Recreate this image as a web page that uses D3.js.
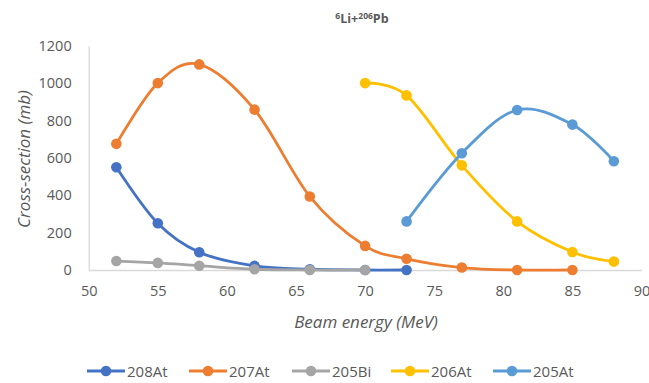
<!DOCTYPE html>
<html>
<head>
<meta charset="utf-8">
<script src="https://cdn.jsdelivr.net/npm/d3@7"></script>
<style>
  html, body { margin: 0; padding: 0; background: #fff; }
  svg { display: block; }
  text { font-family: "Open Sans", "DejaVu Sans", sans-serif; fill: #595959; }
</style>
</head>
<body>
<svg id="chart" width="649" height="383"></svg>
<script>
// ---- data ----
const seriesNames = ["208At", "207At", "205Bi", "206At", "205At"];
const seriesColors = ["#4472C4", "#ED7D31", "#A5A5A5", "#FFC000", "#5B9BD5"];

const x208At = [52, 55, 58, 62, 66, 70, 73];
const y208At = [550, 250, 95, 22, 4, 0, 0];

const x207At = [52, 55, 58, 62, 66, 70, 73, 77, 81, 85];
const y207At = [675, 1000, 1100, 858, 393, 129, 60, 13, 0, 0];

const x205Bi = [52, 55, 58, 62, 66, 70];
const y205Bi = [48, 38, 23, 4, 0, 0];

const x206At = [70, 73, 77, 81, 85, 88];
const y206At = [1000, 934, 560, 260, 96, 45];

const x205At = [73, 77, 81, 85, 88];
const y205At = [260, 625, 856, 778, 582];

const xTicks = [50, 55, 60, 65, 70, 75, 80, 85, 90];
const yTicks = [0, 200, 400, 600, 800, 1000, 1200];

const xData = [x208At, x207At, x205Bi, x206At, x205At];
const yData = [y208At, y207At, y205Bi, y206At, y205At];

// ---- chart ----
const svg = d3.select("#chart");
const x = d3.scaleLinear().domain([50, 90]).range([88.7, 641.5]);
const y = d3.scaleLinear().domain([0, 1200]).range([270, 45.7]);

// axes
const xAxis = d3.axisBottom(x).tickValues(xTicks).tickFormat(d3.format("d")).tickSize(0).tickPadding(16);
const gx = svg.append("g").attr("transform", `translate(0,${y(0)})`).call(xAxis);
gx.select(".domain").attr("stroke", "#D9D9D9").attr("stroke-width", 1.3);
gx.selectAll("text").style("font-size", "14.5px").attr("fill", "#595959")
  .style("font-family", "'Open Sans', sans-serif");

const yAxis = d3.axisLeft(y).tickValues(yTicks).tickFormat(d3.format("d")).tickSize(0).tickPadding(17);
const gy = svg.append("g").attr("transform", `translate(${x(50)},0)`).call(yAxis);
gy.select(".domain").attr("stroke", "#D9D9D9").attr("stroke-width", 1.3);
gy.selectAll("text").style("font-size", "14.5px").attr("fill", "#595959")
  .style("font-family", "'Open Sans', sans-serif");

// lines
const line = d3.line()
  .x(d => x(d[0])).y(d => y(d[1]))
  .curve(d3.curveCardinal.tension(0));

seriesNames.forEach((name, i) => {
  const pts = xData[i].map((v, j) => [v, yData[i][j]]);
  const g = svg.append("g");
  g.append("path").datum(pts)
    .attr("d", line)
    .attr("fill", "none")
    .attr("stroke", seriesColors[i])
    .attr("stroke-width", 2.8)
    .attr("stroke-linecap", "round");
  g.selectAll("circle").data(pts).enter().append("circle")
    .attr("cx", d => x(d[0])).attr("cy", d => y(d[1]))
    .attr("r", 5.3)
    .attr("fill", seriesColors[i]);
});

// title
const title = svg.append("text")
  .attr("x", 362).attr("y", 23)
  .attr("text-anchor", "middle")
  .style("font-size", "12.5px").style("font-weight", "bold").attr("fill", "#595959");
title.append("tspan").text("6").style("font-size", "8.5px").attr("dy", "-4");
title.append("tspan").text("Li+").attr("dy", "4");
title.append("tspan").text("206").style("font-size", "8.5px").attr("dy", "-4");
title.append("tspan").text("Pb").attr("dy", "4");

// axis titles
svg.append("text")
  .attr("x", 366).attr("y", 328)
  .attr("text-anchor", "middle")
  .style("font-size", "17px").style("font-style", "italic")
  .text("Beam energy (MeV)");

svg.append("text")
  .attr("transform", "translate(30,159) rotate(-90)")
  .attr("text-anchor", "middle")
  .style("font-size", "17px").style("font-style", "italic")
  .text("Cross-section (mb)");

// legend
const legendX = [87, 189, 292, 391, 493];
const leg = svg.append("g");
seriesNames.forEach((name, i) => {
  const lx = legendX[i], ly = 371;
  leg.append("line")
    .attr("x1", lx).attr("x2", lx + 38).attr("y1", ly).attr("y2", ly)
    .attr("stroke", seriesColors[i]).attr("stroke-width", 2.8);
  leg.append("circle").attr("cx", lx + 19).attr("cy", ly).attr("r", 5.3)
    .attr("fill", seriesColors[i]);
  leg.append("text").attr("x", lx + 40).attr("y", ly + 5.5)
    .style("font-size", "15px").text(name);
});
</script>
</body>
</html>
